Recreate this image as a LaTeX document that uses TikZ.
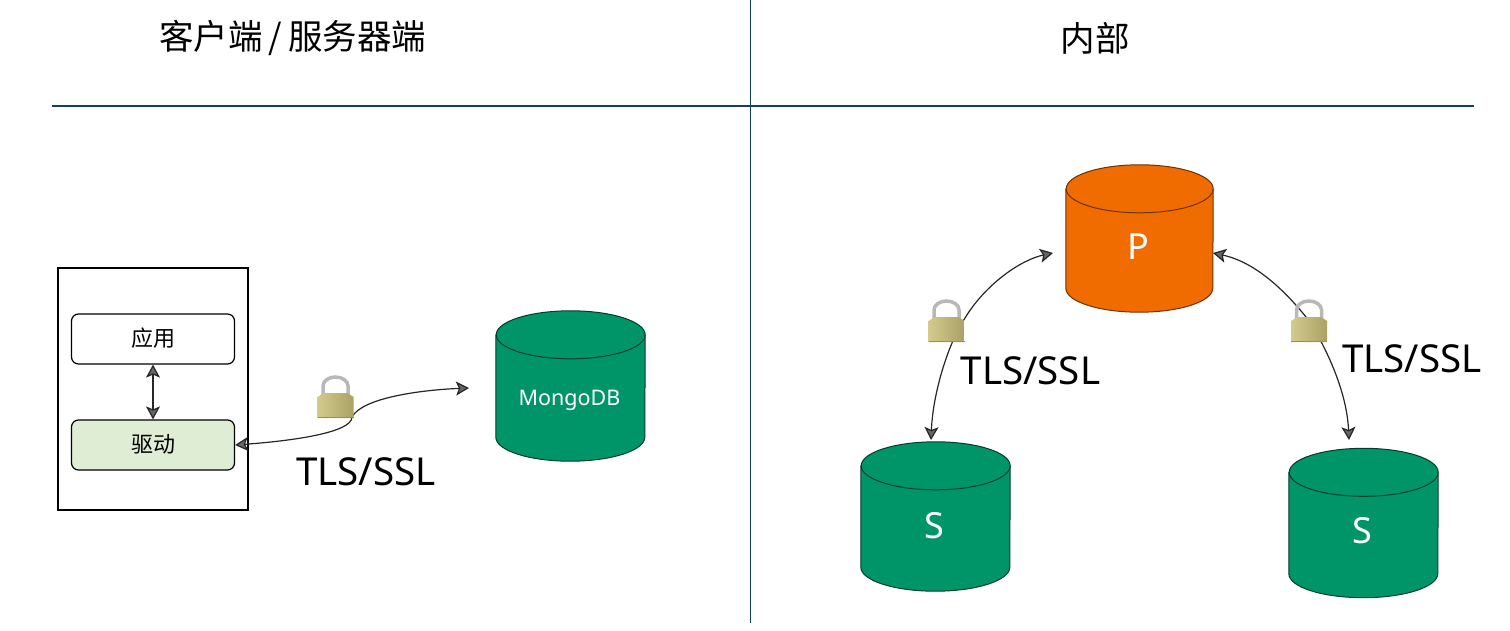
\documentclass[tikz,border=0pt]{standalone}
\usepackage{fontspec}
\setmainfont{Noto Sans}
\newfontfamily\cjk{Noto Sans CJK SC}
\usetikzlibrary{positioning, arrows.meta}
\definecolor{dbgreen}{HTML}{009568}
\definecolor{dborange}{HTML}{F06C00}
\definecolor{drvgreen}{HTML}{E0EDD5}
\definecolor{rulecol}{HTML}{12405A}
\definecolor{lockcol}{HTML}{D2CB8C}
\definecolor{lockdark}{HTML}{A9A264}
\tikzset{
  dbnode/.style={minimum width=149pt, minimum height=150pt, inner sep=0pt},
  layerbox/.style={draw, rounded corners=7pt, line width=1.2pt, minimum width=163pt, minimum height=50pt, inner sep=0pt, font=\cjk\fontsize{22}{22}\selectfont},
  tlslabel/.style={font=\fontsize{38.5}{38.5}\selectfont, inner sep=0pt},
  dbtext/.style={font=\fontsize{36}{36}\selectfont, text=white, inner sep=0pt},
  conn/.style={line width=1.2pt, black!85, {Stealth[length=13pt,width=14pt,inset=3pt,fill=black!60]}-{Stealth[length=13pt,width=14pt,inset=3pt,fill=black!60]}},
  lockicon/.pic={
    \draw[line width=3.5pt, black!28] (-12.5,-16) -- (-12.5,-25) arc (-180:0:12.5 and 9) -- (12.5,-16);
    \shade[left color=lockcol, right color=lockdark] (-18,-14) -- (-12,-18) -- (12,-18) -- (18,-14) -- (18,7) -- (-18,7) -- cycle;
    \fill[black!45] (-18,5.5) rectangle (18,7);
  }
}
% node name, half width, fill, line
\newcommand{\dbshape}[4]{
  \draw[#4, fill=#3, line width=1pt] ([yshift=-24pt]#1.north west) -- ([yshift=24pt]#1.south west)
    arc (180:360:#2pt and 24pt) -- ([yshift=-24pt]#1.north east)
    arc (0:180:#2pt and 24pt) -- cycle;
  \draw[#4, line width=1pt] ([yshift=-24pt]#1.north east) arc (0:-180:#2pt and 24pt);
}
\begin{document}
\begin{tikzpicture}[x=1pt, y=-1pt]
\useasboundingbox (0,0) rectangle (1510,631);
% rules
\coordinate (vtop) at (750.5,0);
\coordinate (vbot) at (750.5,623);
\coordinate (hleft) at (52,106);
\coordinate (hright) at (1474,106);
\draw[rulecol, line width=1.3pt] (vtop) -- (vbot);
\draw[rulecol, line width=1.3pt] (hleft) -- (hright);
\node (title1) [font=\cjk\fontsize{34.5}{34.5}\selectfont, inner sep=0pt] at (293,38) {客户端\hspace{6pt}/\hspace{6pt}服务器端};
\node (title2) [font=\cjk\fontsize{34.5}{34.5}\selectfont, inner sep=0pt] at (1095,38) {内部};

% client side
\node (client) [draw, line width=1.2pt, minimum width=190pt, minimum height=242pt, inner sep=0pt] at (153,389) {};
\node (app) [layerbox] at (153,339) {\raisebox{3.5pt}{应用}};
\node (drv) [layerbox, fill=drvgreen] at (153,445) {\raisebox{4pt}{驱动}};
\draw[conn] (app) -- (drv);
\node (mdb) [dbnode] at (570.5,386) {};
\dbshape{mdb}{74.5}{dbgreen}{black!60!dbgreen}
\node (mdbtext) [dbtext, font=\fontsize{21.5}{21.5}\selectfont] at (569.5,400) {MongoDB};
\coordinate (mdbin) at (469,388);
\draw[conn] (drv.east) .. controls (290,441) and (352,433) .. (352,417) .. controls (362,398) and (420,390) .. (mdbin);
\pic at (335.5,411) {lockicon};
\node (tls1) [tlslabel] at (366,472) {TLS/SSL};

% internal side
\node (prim) [dbnode, minimum width=147pt, minimum height=147pt] at (1139.5,238.5) {};
\dbshape{prim}{73.5}{dborange}{black!55!dborange}
\node (primtext) [dbtext] at (1138,247) {P};
\node (sec1) [dbnode, minimum height=149pt] at (935.5,516.5) {};
\dbshape{sec1}{74.5}{dbgreen}{black!60!dbgreen}
\node (sec1text) [dbtext] at (934,526) {S};
\node (sec2) [dbnode, minimum height=149pt] at (1363.5,523) {};
\dbshape{sec2}{74.5}{dbgreen}{black!60!dbgreen}
\node (sec2text) [dbtext] at (1362,531) {S};
\coordinate (pleft) at (1053,253);
\coordinate (pright) at (1213,253);
\coordinate (s1top) at (931,440);
\coordinate (s2top) at (1349,440);
\draw[conn] (s1top) .. controls (933,390) and (950,340) .. (965,318) .. controls (985,285) and (1020,260) .. (pleft);
\draw[conn] (pright) .. controls (1255,262) and (1285,290) .. (1310,322) .. controls (1330,355) and (1347,395) .. (s2top);
\pic at (946.5,335) {lockicon};
\pic at (1309,335) {lockicon};
\node (tls2) [tlslabel] at (1030.5,371) {TLS/SSL};
\node (tls3) [tlslabel] at (1412,359) {TLS/SSL};
\end{tikzpicture}
\end{document}
